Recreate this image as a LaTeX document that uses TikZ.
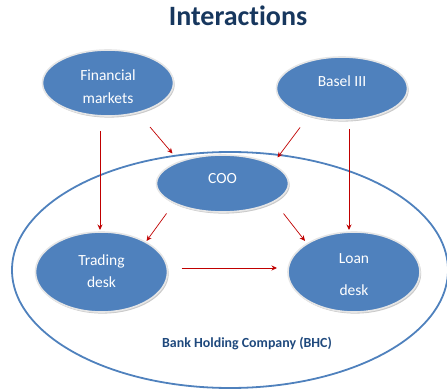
\documentclass[tikz,border=0pt]{standalone}
\usepackage{fontspec}
\setmainfont{Carlito}[Ligatures={TeX,NoCommon}]
\usetikzlibrary{shapes.geometric,calc,arrows.meta,shadows}
\definecolor{bubble}{HTML}{4F81BD}
\definecolor{rim}{HTML}{E6E6E6}
\definecolor{navy}{HTML}{17375E}
\definecolor{labelblue}{HTML}{1F497D}
\definecolor{arrowred}{HTML}{C00000}
\tikzset{
  bubblenode/.style={ellipse, fill=bubble, draw=rim, line width=1.6pt, inner sep=0pt,
    drop shadow={shadow xshift=1.2pt, shadow yshift=-1.6pt, fill=black!35, opacity=0.6}},
  bubbletext/.style={text=white, font=\fontsize{15.5}{19}\selectfont, inner sep=0pt, align=center},
  arr/.style={draw=arrowred, line width=0.7pt, -{Stealth[length=5.5pt,width=5pt]}},
}
\begin{document}
\begin{tikzpicture}[x=1pt,y=-1pt]
\useasboundingbox (0,0) rectangle (447,390);
% title
\node[font=\bfseries\fontsize{28}{30}\selectfont, text=navy] (title) at (238,16) {Interactions};
% BHC boundary
\node[ellipse, draw=bubble, line width=1.8pt, minimum width=436pt, minimum height=236pt, inner sep=0pt] (bhc) at (230,270) {};
\node[font=\bfseries\fontsize{13.9}{15}\selectfont, text=labelblue] (bhclabel) at (247,344) {Bank Holding Company (BHC)};
% bubbles
\node[bubblenode, minimum width=131pt, minimum height=66pt] (fm) at (108,83) {};
\node[bubblenode, minimum width=131pt, minimum height=63pt] (bs) at (342,88.5) {};
\node[bubblenode, minimum width=132pt, minimum height=57pt] (coo) at (222.5,183.5) {};
\node[bubblenode, minimum width=132pt, minimum height=80pt] (td) at (101.5,272) {};
\node[bubblenode, minimum width=132pt, minimum height=80pt] (ld) at (354,272) {};
% bubble texts
\node[bubbletext] (fmtext) at ($(fm.center)+(0,3.5)$) {\shortstack{Financial\\[9pt]markets}};
\node[bubbletext] (bstext) at ($(bs.center)+(0,-7)$) {Basel III};
\node[bubbletext] (cootext) at ($(coo.center)+(0,-4.5)$) {COO};
\node[bubbletext] (tdtext) at ($(td.center)+(0,-1)$) {\shortstack{Trading\\[6pt]desk}};
\node[bubbletext] (ldtext) at ($(ld.center)+(0,3)$) {\shortstack{Loan\\[18pt]desk}};
% connectors
\draw[arr] ($(fm.center)+(-8,48)$) -- ($(td.center)+(-1.5,-42)$);
\draw[arr] ($(fm.center)+(42,44)$) -- ($(coo.center)+(-50,-30)$);
\draw[arr] ($(bs.center)+(-42,39)$) -- ($(coo.center)+(55,-26)$);
\draw[arr] ($(bs.center)+(7,41)$) -- ($(ld.center)+(-5,-42)$);
\draw[arr] ($(coo.center)+(-56,30)$) -- ($(td.center)+(45,-31)$);
\draw[arr] ($(coo.center)+(61,30)$) -- ($(ld.center)+(-49,-31)$);
\draw[arr] ($(td.center)+(80,-4)$) -- ($(ld.center)+(-77,-4)$);
\end{tikzpicture}
\end{document}
